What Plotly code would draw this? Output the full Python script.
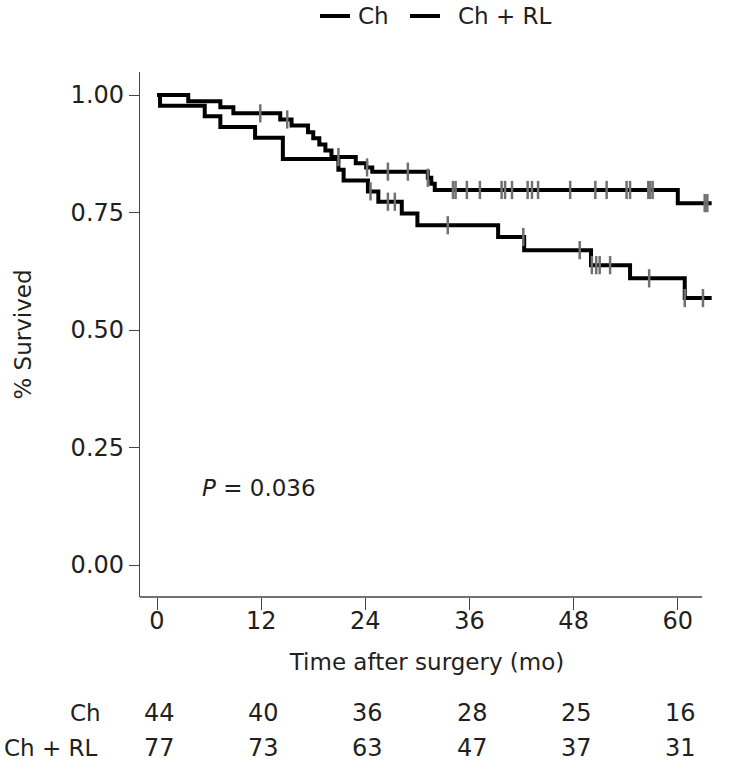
import numpy as np
import plotly.graph_objects as go

# ---- data ----
ch_event_t = [0.35, 5.5, 7.3, 11.3, 14.5, 20.9, 21.5, 24.3, 25.5, 28.2, 30.0, 39.3, 42.3, 50.0, 54.5, 60.8]
ch_event_s = [0.977, 0.955, 0.932, 0.909, 0.864, 0.841, 0.818, 0.795, 0.773, 0.748, 0.723, 0.698, 0.670, 0.638, 0.610, 0.568]
ch_censor_t = [24.6, 26.6, 27.4, 33.5, 42.2, 48.7, 50.1, 50.6, 51.0, 52.2, 56.7, 60.8, 62.9]
ch_end = 63.9

rl_event_t = [3.6, 7.3, 8.8, 14.2, 15.5, 17.4, 18.0, 18.7, 19.4, 20.1, 22.9, 24.1, 24.8, 31.2, 31.6, 32.0, 60.0]
rl_event_s = [0.987, 0.974, 0.961, 0.948, 0.935, 0.921, 0.908, 0.895, 0.882, 0.868, 0.855, 0.846, 0.837, 0.824, 0.811, 0.798, 0.770]
rl_censor_t = [11.9, 15.0, 20.9, 24.2, 26.6, 28.9, 31.2, 34.1, 34.4, 35.7, 37.2, 39.7, 40.1, 40.9,
               42.7, 43.2, 43.9, 47.6, 50.5, 51.8, 54.1, 54.5, 56.6, 56.8, 57.1, 63.1, 63.4]
rl_end = 63.9

group_names = ["Ch", "Ch + RL"]
x_ticks = [0, 12, 24, 36, 48, 60]
y_ticks = [0.0, 0.25, 0.50, 0.75, 1.00]
y_tick_labels = ["0.00", "0.25", "0.50", "0.75", "1.00"]
risk_ch = [44, 40, 36, 28, 25, 16]
risk_rl = [77, 73, 63, 47, 37, 31]
p_text = "<i>P</i> = 0.036"

FONT = "DejaVu Sans"
TXT = "#231f20"
FS_NUM = 24
FS_TXT = 23


def step_xy(times, surv, end):
    xs = [0.0] + list(times) + [end]
    ys = [1.0] + list(surv) + [surv[-1]]
    return xs, ys


def censor_y(times, surv, cts):
    t = np.array(times)
    s = np.array(surv)
    out = []
    for c in cts:
        idx = np.searchsorted(t, c, side="right") - 1
        out.append(1.0 if idx < 0 else float(s[idx]))
    return out


fig = go.Figure()
for name, et, es, ct, end in [(group_names[0], ch_event_t, ch_event_s, ch_censor_t, ch_end),
                              (group_names[1], rl_event_t, rl_event_s, rl_censor_t, rl_end)]:
    xs, ys = step_xy(et, es, end)
    fig.add_trace(go.Scatter(x=xs, y=ys, mode="lines", name=name, showlegend=False,
                             line=dict(color="black", width=4, shape="hv")))
    fig.add_trace(go.Scatter(x=ct, y=censor_y(et, es, ct), mode="markers", showlegend=False,
                             marker=dict(symbol="line-ns", size=13,
                                         line=dict(color="#707070", width=2.5))))

# page body margin is removed in post_script, so screen px == figure px
W, H = 752, 774
SL, SR, ST, SB = 140, 714, 72, 597          # plot area in pixels
x0 = -17 / 8.68
x1 = x0 + (SR - SL) / 8.68
y0, y1 = -0.068, 1.049


def pxx(sx):
    return (sx - SL) / (SR - SL)


def pyy(sy):
    return (SB - sy) / (SB - ST)


for i, t in enumerate(x_ticks):
    fig.add_annotation(x=t + 0.3, y=pyy(713), xref="x", yref="paper", text=str(risk_ch[i]),
                       showarrow=False, xanchor="center", yanchor="middle",
                       font=dict(family=FONT, size=FS_NUM, color=TXT))
    fig.add_annotation(x=t + 0.3, y=pyy(748), xref="x", yref="paper", text=str(risk_rl[i]),
                       showarrow=False, xanchor="center", yanchor="middle",
                       font=dict(family=FONT, size=FS_NUM, color=TXT))
fig.add_annotation(x=pxx(103), y=pyy(713), xref="paper", yref="paper", text=group_names[0],
                   showarrow=False, xanchor="right", yanchor="middle",
                   font=dict(family=FONT, size=FS_TXT, color=TXT))
fig.add_annotation(x=pxx(100), y=pyy(748), xref="paper", yref="paper", text=group_names[1],
                   showarrow=False, xanchor="right", yanchor="middle",
                   font=dict(family=FONT, size=FS_TXT, color=TXT))
fig.add_annotation(x=5.0, y=0.164, xref="x", yref="y", text=p_text, showarrow=False,
                   xanchor="left", yanchor="middle", font=dict(family=FONT, size=FS_TXT, color=TXT))

# legend drawn by hand (line sample + label) to match spacing
for (lx0, lx1, tx), name in zip([(320, 350, 356), (410, 440, 456)], group_names):
    fig.add_shape(type="line", xref="paper", yref="paper", x0=pxx(lx0), x1=pxx(lx1),
                  y0=pyy(16), y1=pyy(16), line=dict(color="black", width=4))
    fig.add_annotation(x=pxx(tx), y=pyy(16), xref="paper", yref="paper", text=name,
                       showarrow=False, xanchor="left", yanchor="middle",
                       font=dict(family=FONT, size=FS_TXT, color=TXT))

# x axis line (stops before the curve ends)
fig.add_shape(type="line", xref="x", yref="paper", x0=x0, x1=62.8, y0=0, y1=0,
              line=dict(color="#444", width=1.3))

fig.update_layout(
    width=W, height=H,
    margin=dict(l=SL, r=W - SR, t=ST, b=H - SB, autoexpand=False),
    paper_bgcolor="white", plot_bgcolor="white",
    font=dict(family=FONT, size=FS_TXT, color=TXT),
    showlegend=False,
    xaxis=dict(range=[x0, x1], tickvals=x_ticks, ticktext=[str(v) for v in x_ticks],
               ticks="outside", ticklen=12, tickcolor="#444", tickwidth=1.3,
               ticklabelstandoff=-10,
               showgrid=False, zeroline=False, showline=False, automargin=False,
               title=dict(text="Time after surgery (mo)", standoff=20,
                          font=dict(family=FONT, size=FS_TXT, color=TXT)),
               tickfont=dict(family=FONT, size=FS_NUM, color=TXT)),
    yaxis=dict(range=[y0, y1], tickvals=y_ticks, ticktext=y_tick_labels,
               ticks="outside", ticklen=10, tickcolor="#444", tickwidth=1.3,
               showgrid=False, zeroline=False, showline=True, linecolor="#444", linewidth=1.3,
               automargin=False,
               title=dict(text="% Survived", standoff=32,
                          font=dict(family=FONT, size=FS_TXT, color=TXT)),
               tickfont=dict(family=FONT, size=FS_NUM, color=TXT)),
)

fig.write_html("out.html", config={"displayModeBar": False},
               post_script="document.body.style.margin='0';document.body.style.padding='0';")
